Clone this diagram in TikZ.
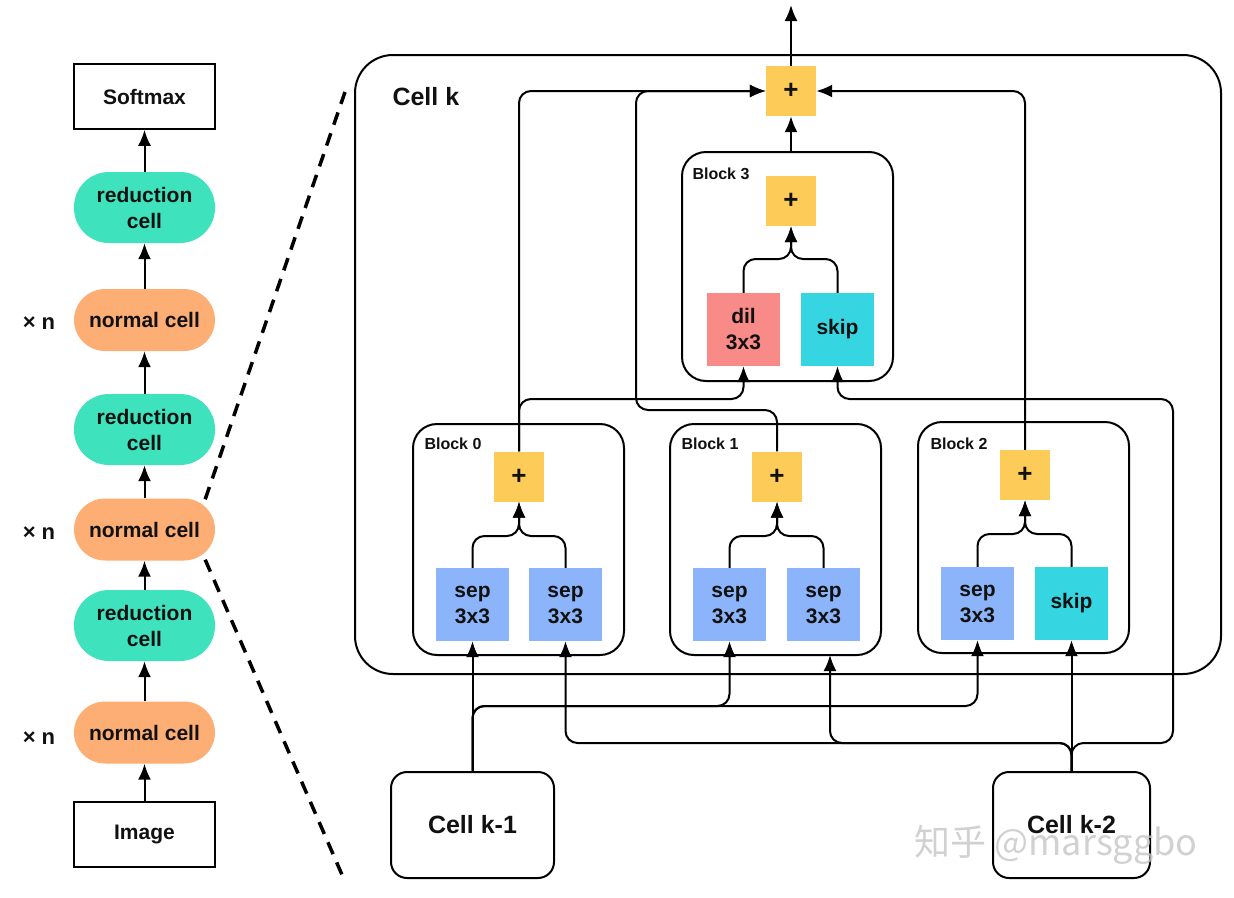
\documentclass[tikz,border=0pt]{standalone}
\usepackage{fontspec}
\setmainfont{Liberation Sans}
\newfontfamily\cjk{Noto Sans CJK SC}
\usetikzlibrary{arrows.meta,calc}
\definecolor{redc}{HTML}{3EE2BC}
\definecolor{normc}{HTML}{FDAE74}
\definecolor{plusc}{HTML}{FDCB57}
\definecolor{sepc}{HTML}{8CB4FA}
\definecolor{dilc}{HTML}{F88A88}
\definecolor{skipc}{HTML}{35D6E2}
\definecolor{txt}{HTML}{111111}
\begin{document}
\begin{tikzpicture}[x=1pt,y=-1pt,
  txtf/.style={font=\fontsize{21}{26}\selectfont\bfseries, text=txt, align=center},
  plainbox/.style={draw, line width=1.6pt, minimum width=141pt, minimum height=65pt, inner sep=0pt, txtf},
  redbox/.style={fill=redc, rounded corners=35pt, minimum width=141pt, minimum height=71pt, inner sep=0pt, txtf},
  normbox/.style={fill=normc, rounded corners=31pt, minimum width=141pt, minimum height=62pt, inner sep=0pt, txtf},
  oper/.style={minimum width=73pt, minimum height=73pt, inner sep=0pt, txtf},
  plusbox/.style={fill=plusc, minimum size=50pt, inner sep=0pt, font=\fontsize{26}{26}\selectfont\bfseries, text=txt},
  blockbox/.style={draw, line width=2pt, rounded corners=24pt, minimum width=211pt, minimum height=231pt, inner sep=0pt},
  blocklbl/.style={font=\fontsize{16}{18}\selectfont\bfseries, text=txt, anchor=west},
  cellbox/.style={draw, line width=2pt, rounded corners=16pt, minimum height=106pt, inner sep=0pt, font=\fontsize{25}{28}\selectfont\bfseries, text=txt},
  conn/.style={line width=2pt, rounded corners=12pt, -{Latex[length=16pt,width=13pt]}},
  zoomline/.style={line width=3.5pt, dash pattern=on 13pt off 9pt}
]
\useasboundingbox (0,0) rectangle (1234,897);

% ---------- left column ----------
\node[plainbox] (soft) at (144.5,96.5) {Softmax};
\node[redbox] (rc1) at (144.5,207.5) {reduction\\cell};
\node[normbox] (nc1) at (144.5,320) {normal cell};
\node[redbox] (rc2) at (144.5,429.5) {reduction\\cell};
\node[normbox] (nc2) at (144.5,529.5) {normal cell};
\node[redbox] (rc3) at (144.5,625.5) {reduction\\cell};
\node[normbox] (nc3) at (144.5,732.5) {normal cell};
\node[plainbox] (img) at (144.5,834.5) {Image};

\node[txtf, font=\fontsize{22}{26}\selectfont\bfseries] (xn1) at (39,323) {× n};
\node[txtf, font=\fontsize{22}{26}\selectfont\bfseries] (xn2) at (39,533) {× n};
\node[txtf, font=\fontsize{22}{26}\selectfont\bfseries] (xn3) at (39,738) {× n};

\foreach \a/\b in {img/nc3, nc3/rc3, rc3/nc2, nc2/rc2, rc2/nc1, nc1/rc1, rc1/soft}
  \draw[conn] (\a.north) -- (\b.south);

% zoom lines
\coordinate (zt) at (345,92);
\coordinate (zb) at (343,877);
\draw[zoomline] ($(nc2.north east)+(-10,1)$) -- (zt);
\draw[zoomline] ($(nc2.south east)+(-10,-1)$) -- (zb);

% ---------- Cell k ----------
\node[draw, line width=2pt, rounded corners=38pt, minimum width=866pt, minimum height=619pt, inner sep=0pt] (cellk) at (788,364.5) {};
\node[font=\fontsize{25}{28}\selectfont\bfseries, text=txt, anchor=west] (cellklbl) at (389,97) {Cell k};

\node[plusbox] (tp) at (791,91) {+};
\coordinate (out) at (791,5);
\draw[conn] (tp.north) -- (out);

% Block 3
\node[blockbox, minimum height=229pt] (b3) at (787.5,266.5) {};
\node[blocklbl] (b3l) at (689,174) {Block 3};
\node[plusbox] (b3p) at (791,201) {+};
\node[oper, fill=dilc] (dil) at (743.5,329.5) {dil\\3x3};
\node[oper, fill=skipc] (skip3) at (837.5,329.5) {skip};
\coordinate (f3) at (791,259);
\draw[conn] (dil.north) |- (f3) -- (b3p.south);
\draw[conn] (skip3.north) |- (f3) -- (b3p.south);
\draw[conn] (b3p.north |- b3.north) -- (tp.south);

% Block 0
\node[blockbox] (b0) at (518.5,539.5) {};
\node[blocklbl] (b0l) at (421,444) {Block 0};
\node[plusbox] (b0p) at (519,476.5) {+};
\node[oper, fill=sepc] (sep1) at (472.5,604.5) {sep\\3x3};
\node[oper, fill=sepc] (sep2) at (565.5,604.5) {sep\\3x3};
\coordinate (f0) at (519,536);
\draw[conn] (sep1.north) |- (f0) -- (b0p.south);
\draw[conn] (sep2.north) |- (f0) -- (b0p.south);

% Block 1
\node[blockbox] (b1) at (775.5,539.5) {};
\node[blocklbl] (b1l) at (678,444) {Block 1};
\node[plusbox] (b1p) at (777,476.5) {+};
\node[oper, fill=sepc] (sep3) at (729.5,604.5) {sep\\3x3};
\node[oper, fill=sepc] (sep4) at (823.5,604.5) {sep\\3x3};
\coordinate (f1) at (777,536);
\draw[conn] (sep3.north) |- (f1) -- (b1p.south);
\draw[conn] (sep4.north) |- (f1) -- (b1p.south);

% Block 2
\node[blockbox] (b2) at (1023.5,537.5) {};
\node[blocklbl] (b2l) at (927,444) {Block 2};
\node[plusbox] (b2p) at (1025,475) {+};
\node[oper, fill=sepc] (sep5) at (977.5,603.5) {sep\\3x3};
\node[oper, fill=skipc] (skip2) at (1071.5,603.5) {skip};
\coordinate (f2) at (1025,534);
\draw[conn] (sep5.north) |- (f2) -- (b2p.south);
\draw[conn] (skip2.north) |- (f2) -- (b2p.south);

% block outputs
\draw[conn] (b0p.north) |- (tp.west);
\draw[conn] (b0p.north) -- (b0p.north |- 0,399) -| (dil.south);
\draw[conn] (b1p.north) |- (636,410) |- (tp.west);
\draw[conn] (b2p.north) |- (tp.east);

% previous cells
\node[cellbox, minimum width=163pt] (ck1) at (472.5,825) {Cell k-1};
\node[cellbox, minimum width=157pt] (ck2) at (1071.5,825) {Cell k-2};

\draw[conn] (ck1.north) -- (sep1.south);
\draw[conn] (ck1.north) -- (ck1.north |- 0,706) -| (sep3.south);
\draw[conn] (ck1.north) -- (ck1.north |- 0,706) -| (sep5.south);

\coordinate (b1in) at (830,655);
\draw[conn] (ck2.north) -- (skip2.south);
\draw[conn] (ck2.north) -- (ck2.north |- 0,743) -| (sep2.south);
\draw[conn] (ck2.north) -- (ck2.north |- 0,743) -| (b1in);
\draw[conn] (ck2.north) -- (ck2.north |- 0,743) -| (1173,399) -| (skip3.south);

% watermark
\node[font=\cjk\fontsize{36}{40}\selectfont, text=gray!45, opacity=0.8] (wm) at (1056,845) {知乎 @marsggbo};
\end{tikzpicture}
\end{document}
